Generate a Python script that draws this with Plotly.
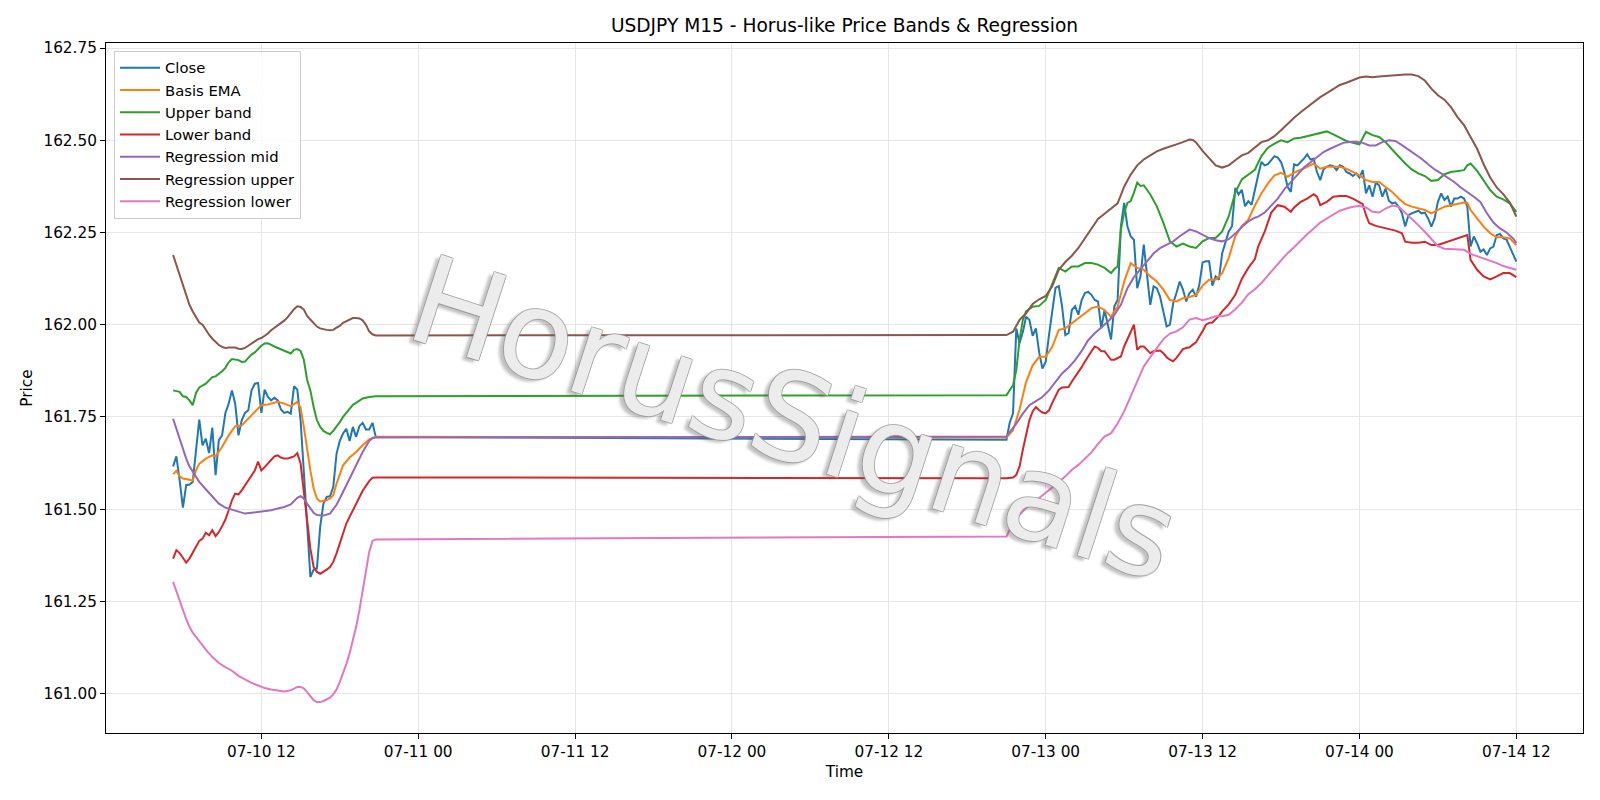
import pandas as pd
import plotly.graph_objects as go

# ---------------- time axis (M15 bars, two sessions) ----------------
SESSION1_START = "2025-07-10 05:15"
SESSION2_START = "2025-07-12 21:00"
SESSION1_BARS = 63

def bar_time(i):
    if i < SESSION1_BARS:
        return pd.Timestamp(SESSION1_START) + pd.Timedelta(minutes=15 * i)
    return pd.Timestamp(SESSION2_START) + pd.Timedelta(minutes=15 * (i - SESSION1_BARS))

# ---------------- data ----------------
close_session1 = [
    161.616, 161.643, 161.578, 161.504, 161.565, 161.567, 161.574, 161.650, 161.743, 161.673,
    161.691, 161.652, 161.721, 161.592, 161.687, 161.700, 161.761, 161.786, 161.822, 161.786,
    161.700, 161.741, 161.761, 161.768, 161.822, 161.840, 161.842, 161.761, 161.824, 161.804,
    161.795, 161.802, 161.795, 161.770, 161.761, 161.764, 161.759, 161.833, 161.824, 161.741,
    161.614, 161.461, 161.316, 161.336, 161.339, 161.452, 161.515, 161.533, 161.535, 161.560,
    161.650, 161.685, 161.705, 161.718, 161.685, 161.723, 161.696, 161.725, 161.734, 161.716,
    161.716, 161.734, 161.696]
close_session2 = [
    161.688, 161.735, 161.760, 161.990, 161.950, 161.980, 162.022, 162.013, 161.970, 161.990,
    161.925, 161.881, 161.900, 161.972, 162.031, 162.100, 162.105, 162.050, 161.972, 161.977,
    162.040, 162.050, 162.027, 162.067, 162.086, 162.089, 162.081, 162.067, 162.063, 161.990,
    162.040, 161.995, 161.960, 162.050, 162.067, 162.267, 162.330, 162.267, 162.240, 162.230,
    162.099, 162.131, 162.217, 162.135, 162.054, 162.104, 162.099, 162.076, 162.031, 161.995,
    162.000, 162.058, 162.086, 162.117, 162.095, 162.063, 162.086, 162.095, 162.076, 162.108,
    162.169, 162.172, 162.172, 162.106, 162.131, 162.122, 162.194, 162.222, 162.253, 162.267,
    162.371, 162.353, 162.366, 162.321, 162.335, 162.325, 162.370, 162.405, 162.441, 162.432,
    162.435, 162.446, 162.457, 162.453, 162.441, 162.414, 162.374, 162.360, 162.435, 162.432,
    162.440, 162.450, 162.462, 162.448, 162.450, 162.414, 162.392, 162.421, 162.428, 162.432,
    162.430, 162.419, 162.432, 162.428, 162.414, 162.410, 162.403, 162.410, 162.399, 162.419,
    162.356, 162.378, 162.347, 162.385, 162.378, 162.347, 162.369, 162.336, 162.329, 162.331,
    162.320, 162.302, 162.266, 162.297, 162.302, 162.306, 162.309, 162.302, 162.304, 162.288,
    162.266, 162.288, 162.333, 162.356, 162.338, 162.347, 162.320, 162.342, 162.342, 162.347,
    162.342, 162.320, 162.212, 162.239, 162.221, 162.198, 162.204, 162.189, 162.207, 162.212,
    162.243, 162.246, 162.234, 162.231, 162.212, 162.189, 162.171]

ema_bars = [0, 1, 2, 3, 5, 6, 7, 8, 10, 12, 13, 15, 17, 19, 21, 23, 25, 27, 29, 32, 34, 36, 38, 39,
            40, 41, 42, 43, 44, 45, 46, 47, 48, 49, 50, 51, 52, 54, 56, 58, 60, 62,
            63, 65, 67, 69, 71, 73, 75, 77, 79, 81, 83, 85, 87, 89, 91, 93, 95, 97, 99, 101, 103,
            105, 107, 109, 111, 113, 115, 117, 119, 121, 123, 125, 127, 129, 131, 133, 135, 137,
            139, 141, 143, 145, 147, 149, 151, 153, 155, 157, 159, 161, 163, 165, 167, 169, 171,
            173, 175, 177, 179, 181, 183, 185, 187, 189, 191, 193, 195, 197, 199, 201, 203, 204,
            205, 207, 209, 211, 213, 215, 217, 219]
ema_values = [161.595, 161.604, 161.589, 161.583, 161.580, 161.578, 161.605, 161.623, 161.637, 161.646,
              161.643, 161.669, 161.700, 161.725, 161.727, 161.745, 161.764, 161.782, 161.784, 161.791,
              161.786, 161.779, 161.791, 161.775, 161.723, 161.660, 161.605, 161.556, 161.529, 161.521,
              161.522, 161.524, 161.529, 161.538, 161.569, 161.596, 161.619, 161.640, 161.655, 161.673,
              161.689, 161.696,
              161.694, 161.714, 161.770, 161.845, 161.890, 161.913, 161.913, 161.940, 161.986, 161.990,
              162.004, 162.017, 162.031, 162.045, 162.049, 162.040, 162.022, 162.049, 162.117, 162.167,
              162.154, 162.149, 162.131, 162.117, 162.095, 162.067, 162.063, 162.072, 162.075, 162.081,
              162.106, 162.122, 162.122, 162.140, 162.181, 162.240, 162.267, 162.285, 162.323, 162.356,
              162.383, 162.405, 162.412, 162.401, 162.412, 162.419, 162.428, 162.437, 162.423, 162.428,
              162.428, 162.428, 162.423, 162.414, 162.405, 162.392, 162.387, 162.387, 162.374, 162.360,
              162.342, 162.327, 162.320, 162.315, 162.311, 162.302, 162.311, 162.320, 162.324, 162.327,
              162.331, 162.330, 162.311, 162.288, 162.266, 162.248, 162.237, 162.237, 162.234, 162.216]

upper_bars = [0, 1, 2, 3, 4, 5, 6, 7, 8, 10, 12, 13, 14, 15, 16, 17, 18, 20, 21, 22, 23, 24, 25, 26,
              27, 28, 29, 31, 33, 35, 36, 37, 38, 39, 40, 41, 42, 43, 44, 45, 46, 47, 48, 49, 50,
              51, 52, 53, 54, 55, 56, 57, 58, 60, 62,
              63, 65, 66, 67, 68, 69, 71, 73, 75, 77, 79, 81, 83, 85, 87, 89, 91, 93, 95, 96, 97, 98,
              99, 100, 101, 102, 103, 104, 105, 107, 109, 111, 113, 115, 117, 119, 121, 123, 125,
              127, 129, 131, 133, 135, 137, 139, 141, 143, 145, 147, 149, 151, 153, 155, 157, 159,
              161, 163, 165, 167, 169, 171, 173, 175, 177, 179, 181, 183, 185, 187, 189, 191, 193,
              195, 197, 199, 201, 203, 204, 205, 207, 209, 211, 213, 215, 217, 219]
upper_values = [161.822, 161.820, 161.818, 161.806, 161.804, 161.795, 161.782, 161.815, 161.830, 161.840,
                161.858, 161.860, 161.866, 161.874, 161.883, 161.898, 161.907, 161.904, 161.899, 161.900,
                161.910, 161.919, 161.925, 161.934, 161.943, 161.949, 161.950, 161.941, 161.934, 161.927,
                161.922, 161.932, 161.934, 161.929, 161.905, 161.851, 161.822, 161.777, 161.741, 161.723,
                161.712, 161.707, 161.703, 161.712, 161.723, 161.736, 161.750, 161.761, 161.773, 161.783,
                161.788, 161.793, 161.800, 161.804, 161.806,
                161.809, 161.836, 161.877, 161.959, 162.013, 162.036, 162.049, 162.051, 162.067, 162.108,
                162.154, 162.144, 162.158, 162.158, 162.167, 162.167, 162.163, 162.154, 162.140, 162.151,
                162.158, 162.258, 162.303, 162.330, 162.335, 162.358, 162.385, 162.376, 162.378, 162.353,
                162.321, 162.276, 162.226, 162.212, 162.220, 162.212, 162.208, 162.226, 162.235, 162.235,
                162.253, 162.294, 162.358, 162.394, 162.407, 162.420, 162.457, 162.480, 162.491, 162.500,
                162.495, 162.505, 162.507, 162.511, 162.516, 162.520, 162.524, 162.516, 162.507, 162.498,
                162.493, 162.489, 162.523, 162.514, 162.509, 162.495, 162.475, 162.455, 162.437, 162.421,
                162.410, 162.403, 162.390, 162.392, 162.408, 162.414, 162.417, 162.419, 162.432, 162.437,
                162.417, 162.392, 162.365, 162.347, 162.340, 162.329, 162.306]

lower_bars = list(range(0, 63)) + list(range(63, 132)) + [
    133, 135, 137, 139, 140, 142, 144, 146, 148, 150, 151, 153, 155, 157, 158, 159, 161, 163, 165,
    167, 169, 171, 172, 173, 174, 176, 178, 180, 182, 184, 185, 187, 189, 191, 193, 195, 197, 199,
    201, 203, 204, 205, 207, 209, 211, 213, 215, 217, 219]
lower_values = [
    161.366, 161.389, 161.381, 161.366, 161.355, 161.366, 161.381, 161.398, 161.414, 161.420,
    161.436, 161.429, 161.443, 161.427, 161.438, 161.454, 161.472, 161.497, 161.524, 161.542,
    161.540, 161.551, 161.564, 161.577, 161.591, 161.605, 161.629, 161.605, 161.614, 161.624,
    161.633, 161.643, 161.646, 161.640, 161.637, 161.637, 161.640, 161.643, 161.652, 161.624,
    161.547, 161.465, 161.393, 161.343, 161.330, 161.325, 161.330, 161.336, 161.343, 161.357,
    161.380, 161.407, 161.434, 161.461, 161.479, 161.497, 161.515, 161.533, 161.550, 161.563,
    161.576, 161.585, 161.586,
    161.584, 161.585, 161.586, 161.593, 161.616, 161.661, 161.706, 161.741, 161.765, 161.777,
    161.768, 161.762, 161.760, 161.768, 161.788, 161.806, 161.824, 161.830, 161.831, 161.831,
    161.846, 161.858, 161.873, 161.885, 161.900, 161.916, 161.928, 161.941, 161.937, 161.928,
    161.928, 161.916, 161.905, 161.905, 161.910, 161.914, 161.941, 161.961, 161.982, 162.000,
    161.932, 161.941, 161.941, 161.932, 161.923, 161.928, 161.930, 161.930, 161.923, 161.912,
    161.905, 161.901, 161.910, 161.923, 161.934, 161.937, 161.939, 161.946, 161.952, 161.968,
    161.982, 162.000, 162.005, 162.006, 162.014, 162.024, 162.036, 162.045, 162.055,
    162.081, 162.124, 162.154, 162.178, 162.212, 162.252, 162.304, 162.324, 162.320, 162.306,
    162.318, 162.333, 162.342, 162.354, 162.347, 162.324, 162.333, 162.347, 162.349, 162.349,
    162.342, 162.333, 162.327, 162.297, 162.275, 162.268, 162.264, 162.259, 162.255, 162.248,
    162.225, 162.222, 162.222, 162.225, 162.216, 162.216, 162.222, 162.230, 162.234, 162.241,
    162.243, 162.176, 162.149, 162.131, 162.123, 162.131, 162.140, 162.140, 162.129]

regmid_bars = [0, 1, 2, 3, 4, 5, 6, 8, 10, 12, 14, 16, 18, 20, 22, 24, 26, 28, 30, 32, 34, 36, 37,
               38, 39, 40, 41, 42, 43, 44, 46, 48, 49, 50, 51, 52, 54, 56, 58, 60, 61, 62,
               63, 64, 66, 68, 70, 72, 74, 76, 78, 80, 82, 84, 86, 88, 90, 92, 94, 96, 98, 100,
               102, 104, 106, 108, 110, 112, 114, 116, 118, 119, 121, 123, 125, 127, 129, 131,
               133, 135, 137, 139, 140, 142, 144, 146, 148, 150, 152, 154, 156, 158, 160, 162,
               164, 166, 168, 170, 172, 174, 176, 178, 180, 182, 184, 186, 188, 190, 192, 194,
               196, 198, 200, 202, 204, 206, 208, 210, 212, 214, 216, 218, 219]
regmid_values = [161.745, 161.718, 161.687, 161.660, 161.637, 161.616, 161.601, 161.574, 161.554, 161.533,
                 161.515, 161.504, 161.499, 161.492, 161.488, 161.490, 161.492, 161.493, 161.497, 161.502,
                 161.506, 161.513, 161.522, 161.531, 161.535, 161.529, 161.515, 161.502, 161.490, 161.484,
                 161.483, 161.488, 161.499, 161.512, 161.529, 161.547, 161.583, 161.619, 161.655, 161.685,
                 161.693, 161.694,
                 161.697, 161.709, 161.732, 161.759, 161.782, 161.793, 161.804, 161.822, 161.845, 161.868,
                 161.884, 161.904, 161.929, 161.958, 161.977, 161.993, 162.008, 162.027, 162.054, 162.099,
                 162.129, 162.151, 162.172, 162.193, 162.208, 162.217, 162.226, 162.240, 162.253, 162.258,
                 162.253, 162.244, 162.235, 162.229, 162.226, 162.232, 162.247, 162.265, 162.280, 162.290,
                 162.293, 162.304, 162.323, 162.342, 162.367, 162.388, 162.406, 162.426, 162.440, 162.455,
                 162.468, 162.477, 162.486, 162.493, 162.495, 162.496, 162.493, 162.486, 162.486, 162.495,
                 162.500, 162.498, 162.487, 162.475, 162.462, 162.450, 162.435, 162.421, 162.410, 162.399,
                 162.387, 162.372, 162.360, 162.347, 162.333, 162.302, 162.277, 162.261, 162.250, 162.234,
                 162.222]

regup_bars = list(range(0, 63)) + [
    63, 65, 67, 69, 71, 73, 75, 77, 79, 81, 83, 85, 87, 89, 91, 93, 95, 97, 99, 101, 103, 105,
    107, 109, 111, 113, 115, 117, 119, 120, 121, 123, 125, 127, 129, 131, 133, 135, 137, 139,
    141, 143, 145, 147, 149, 151, 153, 155, 157, 159, 161, 163, 165, 167, 169, 171, 173, 175,
    177, 179, 181, 183, 185, 187, 189, 191, 193, 195, 197, 199, 201, 203, 205, 207, 209, 211,
    213, 215, 217, 219]
regup_values = [
    162.189, 162.162, 162.135, 162.108, 162.081, 162.054, 162.036, 162.021, 162.006, 162.000,
    161.986, 161.973, 161.962, 161.952, 161.945, 161.940, 161.937, 161.938, 161.939, 161.938,
    161.935, 161.934, 161.937, 161.943, 161.949, 161.955, 161.961, 161.964, 161.970, 161.976,
    161.985, 161.991, 161.998, 162.005, 162.011, 162.020, 162.032, 162.042, 162.050, 162.048,
    162.041, 162.024, 162.014, 162.003, 161.995, 161.990, 161.987, 161.986, 161.985, 161.986,
    161.992, 161.997, 162.005, 162.010, 162.015, 162.018, 162.018, 162.017, 162.012, 162.000,
    161.982, 161.974, 161.971,
    161.972, 161.981, 162.013, 162.031, 162.056, 162.069, 162.078, 162.104, 162.149, 162.170,
    162.187, 162.208, 162.235, 162.262, 162.287, 162.301, 162.314, 162.329, 162.374, 162.407,
    162.432, 162.448, 162.459, 162.470, 162.477, 162.482, 162.489, 162.495, 162.502, 162.501,
    162.494, 162.471, 162.450, 162.432, 162.426, 162.432, 162.446, 162.459, 162.466, 162.480,
    162.495, 162.500, 162.511, 162.527, 162.545, 162.561, 162.576, 162.590, 162.604, 162.617,
    162.628, 162.639, 162.650, 162.656, 162.664, 162.670, 162.673, 162.671, 162.673, 162.675,
    162.676, 162.677, 162.678, 162.678, 162.674, 162.662, 162.640, 162.622, 162.610, 162.590,
    162.563, 162.541, 162.509, 162.477, 162.435, 162.399, 162.372, 162.354, 162.331, 162.293]

reglow_bars = [0, 1, 2, 3, 4, 5, 6, 7, 8, 9, 10, 12, 14, 16, 18, 20, 22, 24, 26, 28, 30, 32, 34,
               36, 37, 38, 39, 40, 41, 42, 43, 44, 45, 46, 47, 48, 49, 50, 51, 52, 53, 54, 55, 56,
               57, 58, 59, 60, 61, 62,
               63, 64, 65, 67, 69, 71, 73, 75, 77, 79, 81, 83, 85, 87, 89, 91, 93, 95, 97, 99, 101,
               103, 105, 107, 109, 111, 113, 115, 117, 119, 121, 123, 125, 127, 129, 131, 133, 135,
               137, 139, 141, 143, 145, 147, 149, 151, 153, 155, 157, 159, 161, 163, 165, 167, 169,
               171, 173, 175, 177, 179, 181, 183, 185, 187, 189, 191, 193, 195, 197, 199, 201, 203,
               205, 207, 209, 211, 213, 215, 217, 219]
reglow_values = [161.303, 161.278, 161.249, 161.224, 161.202, 161.181, 161.165, 161.154, 161.142, 161.132,
                 161.119, 161.099, 161.083, 161.072, 161.062, 161.048, 161.038, 161.029, 161.022, 161.015,
                 161.011, 161.008, 161.006, 161.009, 161.014, 161.018, 161.018, 161.014, 161.004, 160.993,
                 160.982, 160.977, 160.977, 160.980, 160.984, 160.989, 160.998, 161.011, 161.032, 161.054,
                 161.080, 161.109, 161.145, 161.181, 161.226, 161.278, 161.334, 161.384, 161.414, 161.418,
                 161.426, 161.444, 161.464, 161.485, 161.503, 161.516, 161.530, 161.543, 161.557, 161.573,
                 161.589, 161.607, 161.620, 161.636, 161.654, 161.677, 161.697, 161.706, 161.732, 161.765,
                 161.806, 161.851, 161.887, 161.912, 161.937, 161.961, 161.976, 161.982, 161.993, 162.014,
                 162.018, 162.012, 162.017, 162.023, 162.023, 162.027, 162.042, 162.060, 162.083, 162.096,
                 162.113, 162.135, 162.154, 162.174, 162.194, 162.210, 162.228, 162.245, 162.261, 162.277,
                 162.288, 162.299, 162.309, 162.315, 162.320, 162.322, 162.318, 162.306, 162.304, 162.315,
                 162.323, 162.320, 162.304, 162.288, 162.270, 162.252, 162.232, 162.213, 162.206, 162.205,
                 162.204, 162.203, 162.192, 162.186, 162.179, 162.173, 162.167, 162.159, 162.153, 162.149]

series = [
    ("Close", list(range(0, 220)), close_session1 + close_session2, "#1f77b4"),
    ("Basis EMA", ema_bars, ema_values, "#ff7f0e"),
    ("Upper band", upper_bars, upper_values, "#2ca02c"),
    ("Lower band", lower_bars, lower_values, "#d62728"),
    ("Regression mid", regmid_bars, regmid_values, "#9467bd"),
    ("Regression upper", regup_bars, regup_values, "#8c564b"),
    ("Regression lower", reglow_bars, reglow_values, "#e377c2"),
]

FONT = "DejaVu Sans, Verdana, sans-serif"
TICK_SIZE = 15.3

fig = go.Figure()
for name, bars, vals, color in series:
    fig.add_trace(go.Scatter(
        x=[bar_time(i) for i in bars], y=vals, name=name, mode="lines",
        line=dict(color=color, width=2)))

fig.update_layout(
    width=1600, height=800,
    margin=dict(l=106, r=17, t=43, b=67),
    paper_bgcolor="white", plot_bgcolor="white",
    font=dict(family=FONT, size=TICK_SIZE, color="black"),
    title=dict(text="USDJPY M15 - Horus-like Price Bands & Regression",
               x=0.5, xref="paper", xanchor="center",
               y=1 - 25.5 / 800, yref="container", yanchor="middle",
               font=dict(size=18.6, family=FONT, color="black")),
    showlegend=True,
    legend=dict(x=0.0054, y=0.989, xanchor="left", yanchor="top",
                bgcolor="rgba(255,255,255,0.8)", bordercolor="#cccccc", borderwidth=1,
                font=dict(size=14.8, family=FONT), itemwidth=40, tracegroupgap=0),
)

fig.update_xaxes(
    type="date",
    range=["2025-07-10 00:07", "2025-07-14 17:06"],
    tick0="2025-07-10 00:00", dtick=12 * 3600 * 1000, tickformat="%m-%d %H",
    showgrid=True, gridcolor="#e6e6e6", gridwidth=1,
    showline=True, linecolor="black", linewidth=1, mirror=True,
    ticks="outside", ticklen=5, tickwidth=1, tickcolor="black",
    tickfont=dict(size=TICK_SIZE, family=FONT, color="black"),
    title=dict(text="Time", font=dict(size=TICK_SIZE, family=FONT), standoff=5),
    zeroline=False,
)
fig.update_yaxes(
    range=[160.8932, 162.7637],
    tickvals=[161.0, 161.25, 161.5, 161.75, 162.0, 162.25, 162.5, 162.75],
    tickformat=".2f",
    showgrid=True, gridcolor="#e6e6e6", gridwidth=1,
    showline=True, linecolor="black", linewidth=1, mirror=True,
    ticks="outside", ticklen=5, tickwidth=1, tickcolor="black",
    tickfont=dict(size=TICK_SIZE, family=FONT, color="black"),
    title=dict(text="Price", font=dict(size=TICK_SIZE, family=FONT), standoff=7),
    zeroline=False,
)

# watermark
OUT = "rgba(150,150,150,0.8)"
fig.add_annotation(
    text="HorusSignals", xref="paper", yref="paper", x=0.466, y=0.455,
    showarrow=False, textangle=18,
    font=dict(size=122, family=FONT, color="rgba(255,255,255,0.82)",
              shadow=f"0.8px 0.8px 0 {OUT}, -0.8px -0.8px 0 {OUT}, "
                     f"0.8px -0.8px 0 {OUT}, -0.8px 0.8px 0 {OUT}, "
                     "-4px 4px 3px rgba(90,90,90,0.45)"),
)

fig.write_html("out.html")
